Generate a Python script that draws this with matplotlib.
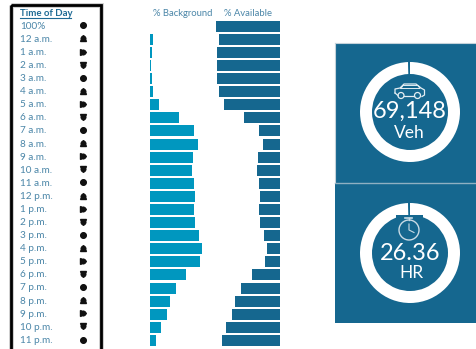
import matplotlib
matplotlib.use("Agg")
import matplotlib.pyplot as plt
from matplotlib.patches import Rectangle, Circle

W, H = 477, 349

hours = ["100%", "12 a.m.", "1 a.m.", "2 a.m.", "3 a.m.", "4 a.m.", "5 a.m.", "6 a.m.",
         "7 a.m.", "8 a.m.", "9 a.m.", "10 a.m.", "11 a.m.", "12 p.m.", "1 p.m.", "2 p.m.",
         "3 p.m.", "4 p.m.", "5 p.m.", "6 p.m.", "7 p.m.", "8 p.m.", "9 p.m.", "10 p.m.", "11 p.m."]
pct_background = [0, 3, 2, 1, 2, 3, 9, 29, 44, 48, 43, 42, 44, 45, 44, 45, 49, 52, 50, 36, 26, 20, 17, 11, 6]
pct_available = [63, 60, 62, 62, 62, 60, 55, 36, 21, 17, 22, 23, 21, 20, 21, 20, 16, 13, 15, 28, 39, 44, 47, 53, 57]
veh_ring = [99.4, 0.6]
hr_ring = [99.4, 0.6]

DARK = "#15678f"
LIGHT = "#0097bf"
TEXT = "#4b86a8"

plt.rcParams["font.family"] = ["Lato", "DejaVu Sans"]
fig = plt.figure(figsize=(W / 100, H / 100), dpi=100, facecolor="white")


def px_axes(x, y, w, h, **kw):
    ax = fig.add_axes([x / W, 1 - (y + h) / H, w / W, h / H], **kw)
    ax.axis("off")
    return ax


# full-figure layer in pixel units, for the frame, panels and icons
bg = px_axes(0, 0, W, H)
bg.set_xlim(0, W)
bg.set_ylim(H, 0)

# time of day box
bg.add_patch(Rectangle((11.3, 5.2), 90.2, 350, fill=False, ec="#c8c8c8", lw=3.4))
bg.add_patch(Rectangle((11.3, 5.2), 90.2, 350, fill=False, ec="black", lw=2.0))
bg.text(20, 13, "Time of Day", fontsize=6.9, fontweight="bold", color="#1f6a94", va="center")
bg.plot([20, 71], [17.5, 17.5], color="#1f6a94", lw=0.8)

row_step = 13.09
row_top = 26.2
rows = [row_top + i * row_step for i in range(len(hours))]
markers = ["o", "^", ">", "v"]
for i, (label, y) in enumerate(zip(hours, rows)):
    bg.text(20, y, label, fontsize=7.2, color=TEXT, va="center")
    bg.plot(83, y - 0.8, marker=markers[i % 4], ms=4, color="#111111", mec="#111111")
    bg.plot(83, y - 0.8, marker="o", ms=3.9, color="#111111", mec="#111111", mew=0.3)

bg.text(182.5, 13, "% Background", fontsize=6.8, color=TEXT, ha="center", va="center")
bg.text(248, 13, "% Available", fontsize=6.8, color=TEXT, ha="center", va="center")

# bars
ax_bg = px_axes(150, 20, 60, rows[-1] + 6 - 20)
ax_bg.barh(rows, pct_background, height=11, color=LIGHT)
ax_bg.set_xlim(0, 60)
ax_bg.set_ylim(rows[-1] + 6, 20)

ax_av = px_axes(210, 20, 69.5, rows[-1] + 6 - 20)
ax_av.barh(rows, pct_available, height=11, color=DARK)
ax_av.set_xlim(69.5, 0)
ax_av.set_ylim(rows[-1] + 6, 20)

# KPI panels
bg.add_patch(Rectangle((335, 43), 142, 140, fc=DARK, ec="none"))
bg.add_patch(Rectangle((335, 183.5), 142, 139.5, fc=DARK, ec="none"))
bg.plot([335, 477], [42.8, 42.8], color="#c4d2da", lw=0.8)
bg.plot([335, 477], [182.8, 182.8], color="#8fb0c2", lw=1.0)
bg.plot([335, 335], [43, 182], color="#c4d2da", lw=0.8)


def ring(cx, cy, values):
    ax = px_axes(cx - 51, cy - 51, 102, 102)
    ax.pie(values, radius=1.0, startangle=90, counterclock=False, colors=["white", DARK],
           wedgeprops={"width": 0.24, "linewidth": 0})
    ax.set_xlim(-1.02, 1.02)
    ax.set_ylim(-1.02, 1.02)


ring(410, 112, veh_ring)
ring(410, 253, hr_ring)

top = fig.add_axes([0, 0, 1, 1])
top.axis("off")
top.set_xlim(0, W)
top.set_ylim(H, 0)

top.text(409.5, 111, "69,148", fontsize=17, color="white", ha="center", va="center")
top.text(409.5, 133, "Veh", fontsize=12.5, color="white", ha="center", va="center")
top.text(410.5, 254, "26.36", fontsize=17, color="white", ha="center", va="center")
top.text(411, 272.5, "HR", fontsize=12.5, color="white", ha="center", va="center")

# car icon
car_col = "#e4eef3"
top.plot([395, 395, 400, 404, 416, 421, 424.5, 424.5, 422], [93, 89, 88, 84, 84, 88, 90, 95, 96.5],
         color=car_col, lw=0.9)
top.plot([395, 398], [93, 95.5], color=car_col, lw=0.9)
top.plot([404, 414], [95.8, 95.8], color=car_col, lw=0.9)
top.plot([401, 403, 418, 420, 401], [88.5, 85.5, 85.5, 88.5, 88.5], color=car_col, lw=0.7)
top.add_patch(Circle((401, 95.5), 3, fc=DARK, ec=car_col, lw=0.9))
top.add_patch(Circle((417.5, 95.5), 3, fc=DARK, ec=car_col, lw=0.9))

# stopwatch icon, its box cuts the ring's inner edge flat
top.add_patch(Rectangle((396, 215), 27, 5, fc=DARK, ec="none"))
watch = "#c9dbe5"
top.add_patch(Circle((409, 230), 10, fc="none", ec=watch, lw=1.0))
top.plot([409, 409], [220, 218], color=watch, lw=1.0)
top.plot([405.5, 412.5], [218, 218], color=watch, lw=1.2)
top.plot([409, 409, 414], [224, 230, 232.5], color=watch, lw=0.8)

fig.savefig("out.png", dpi=100)
